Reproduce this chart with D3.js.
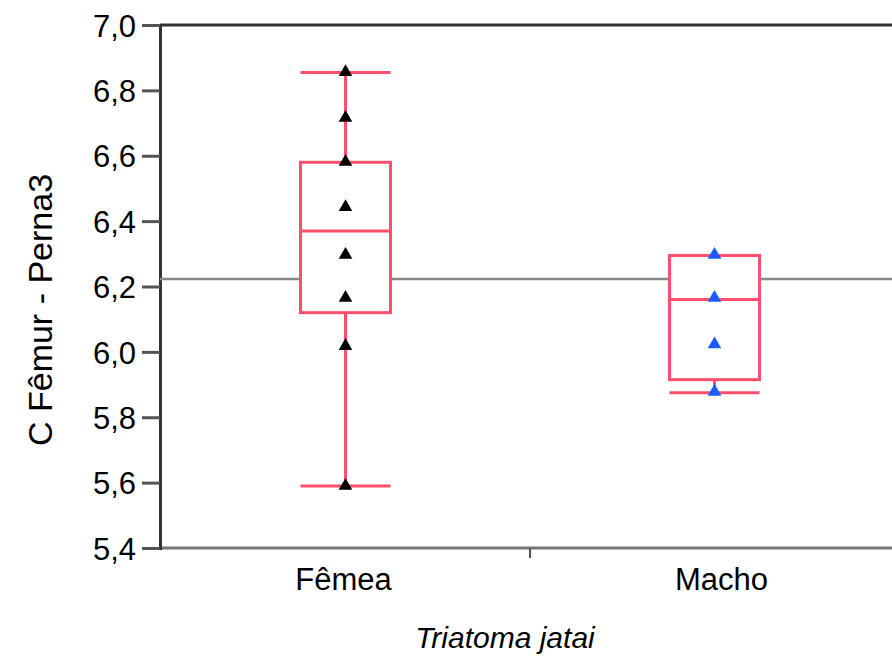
<!DOCTYPE html>
<html>
<head>
<meta charset="utf-8">
<script src="https://cdn.jsdelivr.net/npm/d3@7"></script>
<style>
  body { margin: 0; background: #fff; }
  text { font-family: "Liberation Sans", Arial, sans-serif; }
</style>
</head>
<body>
<script>
// data
const groups = ["Fêmea", "Macho"];
const boxLow = [5.59, 5.875];
const boxQ1 = [6.12, 5.915];
const boxMed = [6.37, 6.16];
const boxQ3 = [6.58, 6.295];
const boxHigh = [6.855, 6.295];
const femeaPoints = [6.853, 6.713, 6.578, 6.44, 6.294, 6.162, 6.015, 5.587];
const machoPoints = [6.294, 6.162, 6.02, 5.875];
const meanLine = 6.223;
const yTicks = [5.4, 5.6, 5.8, 6.0, 6.2, 6.4, 6.6, 6.8, 7.0];

const w = 892, h = 661;
const margin = { top: 25, left: 160, bottom: 548 };

const svg = d3.select("body").append("svg")
    .attr("width", w)
    .attr("height", h);

//scales
const x = d3.scaleBand()
    .domain(groups)
    .range([margin.left + 1, margin.left + 1 + 2 * 369]);

const y = d3.scaleLinear()
    .domain([5.4, 7.0])
    .range([margin.bottom, margin.top]);

const fmt = d => d3.format(".1f")(d).replace(".", ",");

//top border
svg.append("line")
    .attr("x1", margin.left).attr("x2", w)
    .attr("y1", y(7.0)).attr("y2", y(7.0))
    .style("stroke", "#333").style("stroke-width", 3);

//bottom axis line + group boundary tick
svg.append("line")
    .attr("x1", margin.left).attr("x2", w)
    .attr("y1", y(5.4)).attr("y2", y(5.4))
    .style("stroke", "#777").style("stroke-width", 3);

svg.append("line")
    .attr("x1", x("Macho")).attr("x2", x("Macho"))
    .attr("y1", y(5.4)).attr("y2", y(5.4) + 10)
    .style("stroke", "#555").style("stroke-width", 2);

//y axis
const yAxis = d3.axisLeft(y)
    .tickValues(yTicks)
    .tickFormat(fmt)
    .tickSize(18)
    .tickPadding(6);

const axis = svg.append("g")
    .attr("transform", `translate(${margin.left},0)`)
    .call(yAxis);
axis.select(".domain").style("stroke", "#333").style("stroke-width", 3);
axis.selectAll(".tick line").style("stroke", "#555").style("stroke-width", 3);
axis.selectAll(".tick text")
    .style("font-size", "31px")
    .style("fill", "#000")
    .attr("dy", "0.36em");

//mean line
svg.append("line")
    .attr("x1", margin.left).attr("x2", w)
    .attr("y1", y(meanLine)).attr("y2", y(meanLine))
    .style("stroke", "#888").style("stroke-width", 2.5);

//boxes
const boxW = 90;
const red = "#ff4f6e";
const boxes = svg.selectAll(".box")
    .data(groups)
    .enter()
    .append("g")
    .attr("class", "box")
    .attr("transform", d => `translate(${x(d) + x.bandwidth() / 2},0)`);

boxes.append("line") // whisker
    .attr("y1", (d, i) => y(boxLow[i]))
    .attr("y2", (d, i) => y(boxHigh[i]))
    .style("stroke", red).style("stroke-width", 3);

boxes.append("rect")
    .attr("x", -boxW / 2)
    .attr("width", boxW)
    .attr("y", (d, i) => y(boxQ3[i]))
    .attr("height", (d, i) => y(boxQ1[i]) - y(boxQ3[i]))
    .style("fill", "#fff")
    .style("stroke", red).style("stroke-width", 3);

[boxMed, boxLow, boxHigh].forEach(arr => {
    boxes.append("line")
        .attr("x1", -boxW / 2).attr("x2", boxW / 2)
        .attr("y1", (d, i) => y(arr[i]))
        .attr("y2", (d, i) => y(arr[i]))
        .style("stroke", red).style("stroke-width", 3);
});

//points
const tri = d3.symbol().type(d3.symbolTriangle).size(80);
const pointSets = [
    { g: "Fêmea", vals: femeaPoints, color: "#000" },
    { g: "Macho", vals: machoPoints, color: "#1a5cff" }
];
pointSets.forEach(s => {
    svg.selectAll(null)
        .data(s.vals)
        .enter()
        .append("path")
        .attr("d", tri)
        .attr("transform", d => `translate(${x(s.g) + x.bandwidth() / 2},${y(d) - 1})`)
        .style("fill", s.color);
});

//category labels
svg.selectAll(".cat")
    .data(groups)
    .enter()
    .append("text")
    .attr("class", "cat")
    .attr("x", (d, i) => x(d) + x.bandwidth() / 2 + (i ? 7 : -2))
    .attr("y", 590)
    .attr("text-anchor", "middle")
    .style("font-size", "31px")
    .style("fill", "#000")
    .text(d => d);

//x title
svg.append("text")
    .attr("x", 505)
    .attr("y", 648)
    .attr("text-anchor", "middle")
    .style("font-size", "30px")
    .style("font-style", "italic")
    .style("fill", "#000")
    .text("Triatoma jatai");

//y title
svg.append("text")
    .attr("transform", "translate(52,310) rotate(-90)")
    .attr("text-anchor", "middle")
    .style("font-size", "34px")
    .style("fill", "#000")
    .text("C Fêmur - Perna3");
</script>
</body>
</html>
